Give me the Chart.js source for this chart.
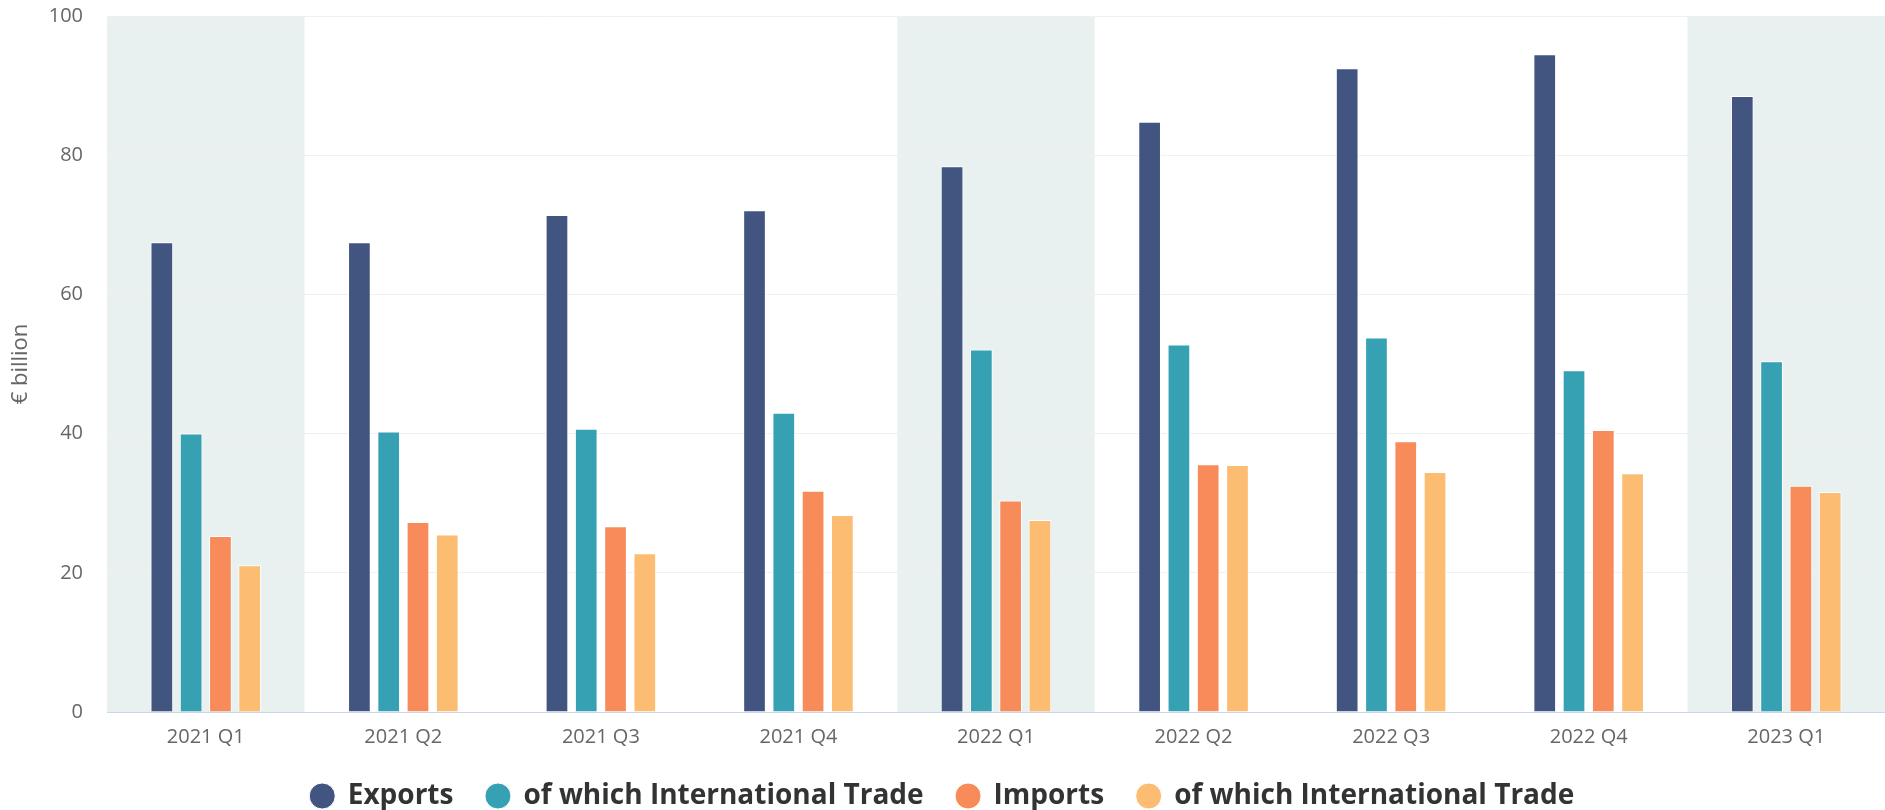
<!DOCTYPE html>
<html>
<head>
<meta charset="utf-8">
<script src="https://cdn.jsdelivr.net/npm/chart.js@4/dist/chart.umd.min.js"></script>
<style>
    html, body { margin: 0; padding: 0; background: #fff; }
    #wrap { width: 1885px; height: 810px; }
</style>
</head>
<body>
<div id="wrap"><canvas id="trade-chart"></canvas></div>
<script>
const quarters = ['2021 Q1', '2021 Q2', '2021 Q3', '2021 Q4', '2022 Q1', '2022 Q2', '2022 Q3', '2022 Q4', '2023 Q1'];
const exportsTotal = [67.5, 67.5, 71.4, 72.1, 78.4, 84.8, 92.5, 94.5, 88.5];
const exportsIntl = [40.0, 40.3, 40.7, 43.0, 52.1, 52.8, 53.8, 49.1, 50.4];
const importsTotal = [25.3, 27.3, 26.7, 31.8, 30.4, 35.6, 38.9, 40.5, 32.5];
const importsIntl = [21.1, 25.5, 22.8, 28.3, 27.6, 35.5, 34.5, 34.3, 31.6];
const yTicks = [0, 20, 40, 60, 80, 100];
// first quarter of every year gets a shaded column
const shadedQuarters = ['2021 Q1', '2022 Q1', '2023 Q1'];

Chart.defaults.font.family = "'Open Sans', sans-serif";
Chart.defaults.color = '#666';

const bandPlugin = {
    id: 'quarterBands',
    beforeDraw(chart) {
        const {ctx, chartArea, scales: {x}} = chart;
        const half = (x.getPixelForValue(1) - x.getPixelForValue(0)) / 2;
        ctx.save();
        ctx.fillStyle = '#e8f1f0';
        shadedQuarters.forEach(q => {
            const cx = x.getPixelForValue(quarters.indexOf(q));
            ctx.fillRect(cx - half, chartArea.top, half * 2, chartArea.bottom - chartArea.top);
        });
        ctx.restore();
    }
};

const barStyle = {
    borderColor: '#fff',
    borderWidth: 1,
    categoryPercentage: 0.593,
    barPercentage: 0.775
};

new Chart(document.getElementById('trade-chart'), {
    type: 'bar',
    data: {
        labels: quarters,
        datasets: [
            {label: 'Exports', data: exportsTotal, backgroundColor: '#425480', ...barStyle},
            {label: 'of which International Trade', data: exportsIntl, backgroundColor: '#35a1b3', ...barStyle},
            {label: 'Imports', data: importsTotal, backgroundColor: '#f78b59', ...barStyle},
            {label: 'of which International Trade', data: importsIntl, backgroundColor: '#fcbc72', ...barStyle}
        ]
    },
    options: {
        responsive: true,
        maintainAspectRatio: false,
        animation: false,
        layout: {
            padding: {top: 16, right: 0, bottom: -10, left: 0}
        },
        plugins: {
            legend: {
                position: 'bottom',
                labels: {
                    usePointStyle: true,
                    pointStyle: 'circle',
                    boxWidth: 23,
                    boxHeight: 18.4,
                    padding: 33,
                    color: '#333',
                    font: {size: 28, weight: 'bold'}
                }
            },
            tooltip: {enabled: false}
        },
        scales: {
            x: {
                grid: {display: false, drawTicks: false},
                border: {color: '#ccd6eb', width: 1},
                ticks: {padding: 15, font: {size: 20, lineHeight: 1}, color: '#666'},
                afterFit(scale) {
                    scale.height = 37;
                }
            },
            y: {
                min: 0,
                max: 100,
                border: {display: false},
                grid: {color: '#f0f0f0', drawTicks: false},
                afterBuildTicks(scale) {
                    scale.ticks = yTicks.map(v => ({value: v}));
                },
                afterFit(scale) {
                    // keep the tick gap from widening the axis or pushing the plot down
                    scale.width = 107;
                    scale.paddingTop = 12;
                    scale.paddingBottom = 12;
                },
                ticks: {padding: 24, font: {size: 20}, color: '#666'},
                title: {
                    display: true,
                    text: '€ billion',
                    color: '#666',
                    font: {size: 22},
                    padding: {top: 8, bottom: 14}
                }
            }
        }
    },
    plugins: [bandPlugin]
});
</script>
</body>
</html>
